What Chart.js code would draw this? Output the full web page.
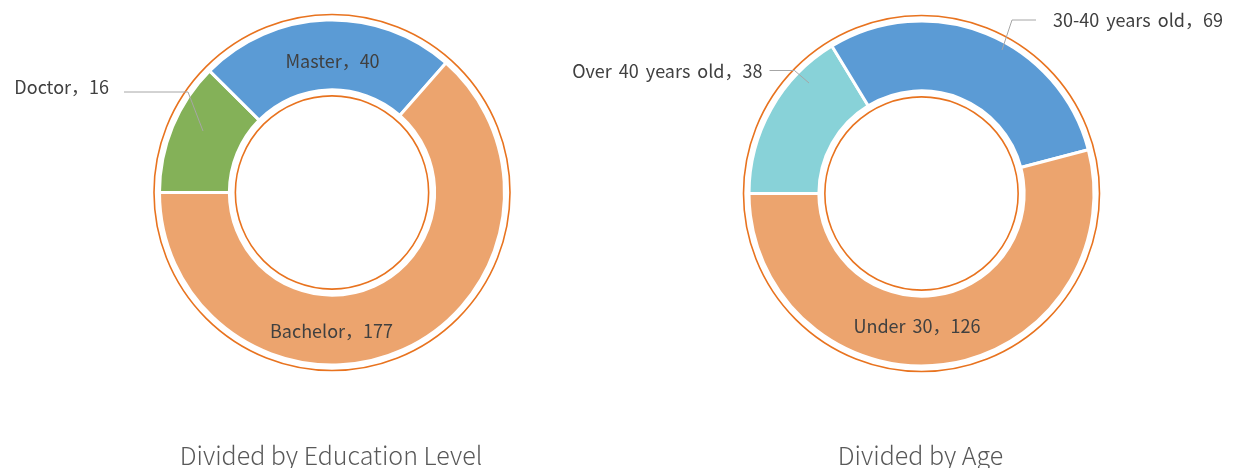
<!DOCTYPE html>
<html><head><meta charset="utf-8">
<script src="https://cdn.jsdelivr.net/npm/chart.js@4.4.0/dist/chart.umd.min.js"></script>
<style>
html,body{margin:0;padding:0;background:#fff;}
#wrap{position:relative;width:1239px;height:468px;overflow:hidden;}
.c{position:absolute;top:0;height:468px;}
</style></head><body>
<div id="wrap">
<div class="c" style="left:0;width:620px"><canvas id="edu"></canvas></div>
<div class="c" style="left:540px;width:699px"><canvas id="age"></canvas></div>
</div>
<script>
// ---- data ----
const eduCategories = ['Doctor', 'Master', 'Bachelor'];
const eduCounts = [16, 40, 177];          // numbers printed in the labels
const eduSliceValues = [29, 56, 148];     // slice sizes as drawn in the picture
const eduTitle = 'Divided by Education Level';

const ageCategories = ['Over 40 years old', '30-40 years old', 'Under 30'];
const ageCounts = [38, 69, 126];
const ageTitle = 'Divided by Age';

// ---- styles ----
const LABEL_FONT = '"Noto Sans CJK SC", "Noto Sans", sans-serif';
const eduColors = ['#84B158', '#5B9BD5', '#ECA46E'];
const ageColors = ['#88D2D8', '#5B9BD5', '#ECA46E'];
const RING_COLOR = '#E8731F';

// label layout: inside labels -> offset of baseline centre from arc centre;
// outside labels -> anchor point, elbow point, horizontal run, text offset
const eduLayout = [
  {type: 'out', anchor: [-129, -61.5], elbow: [-144, -100.5], run: -64, gap: 15, dy: 2},
  {type: 'in', pos: [0.5, -124.2]},
  {type: 'in', pos: [-0.5, 145.5]}
];
const ageLayout = [
  {type: 'out', anchor: [-112.5, -110.5], elbow: [-127, -123], run: -25, gap: 7, dy: 7.5},
  {type: 'out', anchor: [80.5, -143.5], elbow: [90.5, -173.5], run: 24, gap: 17, dy: 6.5},
  {type: 'in', pos: [-4.5, 139.5]}
];

const decorPlugin = {
  id: 'decor',
  beforeDatasetsDraw(chart, args, opts) {
    const arc = chart.getDatasetMeta(0).data[0];
    const {x, y, outerRadius, innerRadius} = arc.getProps(['x', 'y', 'outerRadius', 'innerRadius'], true);
    const ctx = chart.ctx;
    ctx.save();
    ctx.strokeStyle = RING_COLOR;
    ctx.lineWidth = 1.6;
    ctx.beginPath(); ctx.arc(x, y, outerRadius + 5.5, 0, Math.PI * 2); ctx.stroke();
    ctx.beginPath(); ctx.arc(x, y, innerRadius - 6, 0, Math.PI * 2); ctx.stroke();
    ctx.restore();
  },
  afterDatasetsDraw(chart, args, opts) {
    const arc = chart.getDatasetMeta(0).data[0];
    const {x, y} = arc.getProps(['x', 'y'], true);
    const ctx = chart.ctx;
    const cats = chart.data.labels;
    const counts = opts.counts;
    ctx.save();
    ctx.font = '18px ' + LABEL_FONT;
    if ('wordSpacing' in ctx) ctx.wordSpacing = '3px';
    ctx.fillStyle = '#404040';
    ctx.textBaseline = 'alphabetic';
    opts.layout.forEach((L, i) => {
      const txt = cats[i] + '，' + counts[i];
      if (L.type === 'in') {
        ctx.textAlign = 'center';
        ctx.fillText(txt, x + L.pos[0], y + L.pos[1]);
      } else {
        const ax = x + L.anchor[0], ay = y + L.anchor[1];
        const ex = x + L.elbow[0], ey = y + L.elbow[1];
        const hx = ex + L.run;
        ctx.strokeStyle = '#A6A6A6';
        ctx.lineWidth = 1;
        ctx.beginPath(); ctx.moveTo(ax, ay); ctx.lineTo(ex, ey); ctx.lineTo(hx, ey); ctx.stroke();
        if (L.run < 0) { ctx.textAlign = 'right'; ctx.fillText(txt, hx - L.gap, ey + L.dy); }
        else { ctx.textAlign = 'left'; ctx.fillText(txt, hx + L.gap, ey + L.dy); }
      }
    });
    // title
    if ('wordSpacing' in ctx) ctx.wordSpacing = '0px';
    ctx.font = '300 25px ' + LABEL_FONT;
    ctx.fillStyle = '#595959';
    ctx.textAlign = 'center';
    ctx.fillText(opts.title, x - 1, 465);
    ctx.restore();
  }
};

function makeChart(id, cats, values, colors, pad, counts, layout, title) {
  return new Chart(document.getElementById(id), {
    type: 'doughnut',
    data: {
      labels: cats,
      datasets: [{
        data: values,
        backgroundColor: colors,
        borderColor: '#FFFFFF',
        borderWidth: 3,
        hoverOffset: 0
      }]
    },
    options: {
      responsive: true,
      maintainAspectRatio: false,
      animation: false,
      events: [],
      rotation: -90,
      radius: 172.5,
      cutout: '59.5%',
      layout: {padding: pad},
      plugins: {
        legend: {display: false},
        tooltip: {enabled: false},
        title: {display: false},
        decor: {counts: counts, layout: layout, title: title}
      }
    },
    plugins: [decorPlugin]
  });
}

makeChart('edu', eduCategories, eduSliceValues, eduColors,
  {left: 44, right: 0, top: 0, bottom: 83}, eduCounts, eduLayout, eduTitle);
makeChart('age', ageCategories, ageCounts, ageColors,
  {left: 64, right: 0, top: 0, bottom: 81}, ageCounts, ageLayout, ageTitle);
</script>
</body></html>
